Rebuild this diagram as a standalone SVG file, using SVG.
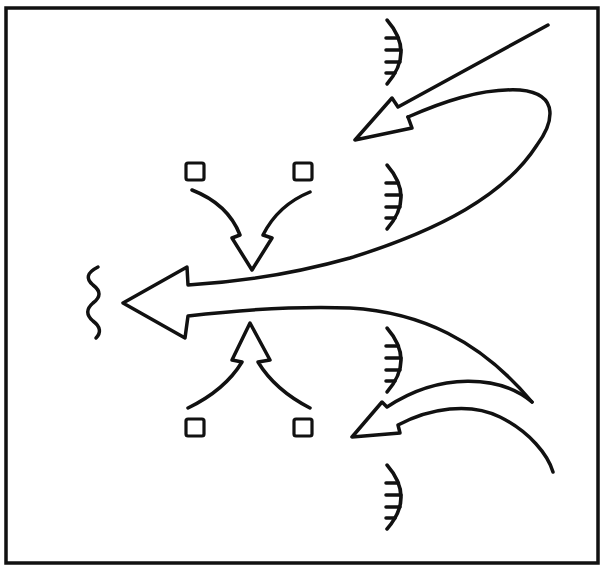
<svg xmlns="http://www.w3.org/2000/svg" width="602" height="566" viewBox="0 0 602 566">
<style>
.ln{fill:none;stroke:#111;stroke-width:3.5;stroke-linecap:round;stroke-linejoin:round}
.bx{fill:#fff;stroke:#111;stroke-width:3.2}
.fr{fill:#fff;stroke:#111;stroke-width:3.5}
</style>
<defs>
<g id="hatch">
<path class="ln" d="M0,0 Q28,32 0,64"/>
<path class="ln" d="M-1,18 H11.5 M-1,30 H14 M-1,42 H13 M-1,53 H8"/>
</g>
</defs>
<rect class="fr" x="6" y="8" width="592" height="555"/>
<g id="connectors">
<path id="arrow-top-in" class="ln" d="M548,25 L398,107 L392,98 L355,140 L412,128 L408,117"/>
<path id="arrow-main" class="ln" d="M408,117 C440,103 480,88 520,90 C562,94 552,125 537,145 C505,195 440,230 350,258 C300,272 240,282 188,285 L187,267 L123,303 L185,338 L188,316 C240,310 300,306 350,308 C420,312 480,340 532,402"/>
<path id="arrow-bottom-in" class="ln" d="M532,402 C500,375 440,372 387,407 L382,402 L352,437 L400,433 L398,425 C430,408 470,402 500,417 C530,432 548,455 553,472"/>
<path id="arrow-down" class="ln" d="M192,190 Q228,204 240,235 L232,238 L252,270 L272,238 L263,235 Q278,205 310,192"/>
<path id="arrow-up" class="ln" d="M188,408 Q225,390 242,362 L232,360 L250,323 L270,360 L258,362 Q275,390 310,408"/>
</g>
<g id="square-1"><rect class="bx" x="186" y="163" width="18" height="17" rx="2"/></g>
<g id="square-2"><rect class="bx" x="294" y="163" width="18" height="17" rx="2"/></g>
<g id="square-3"><rect class="bx" x="186" y="419" width="18" height="17" rx="2"/></g>
<g id="square-4"><rect class="bx" x="294" y="419" width="18" height="17" rx="2"/></g>
<g id="hatch-1"><use href="#hatch" x="387" y="20"/></g>
<g id="hatch-2"><use href="#hatch" x="387" y="165"/></g>
<g id="hatch-3"><use href="#hatch" x="387" y="328"/></g>
<g id="hatch-4"><use href="#hatch" x="387" y="465"/></g>
<g id="squiggle"><path class="ln" d="M98,267 C86,273 86,279 93,285 C101,291 101,297 93,303 C86,309 86,315 93,321 C101,327 101,333 96,338"/></g>
</svg>
